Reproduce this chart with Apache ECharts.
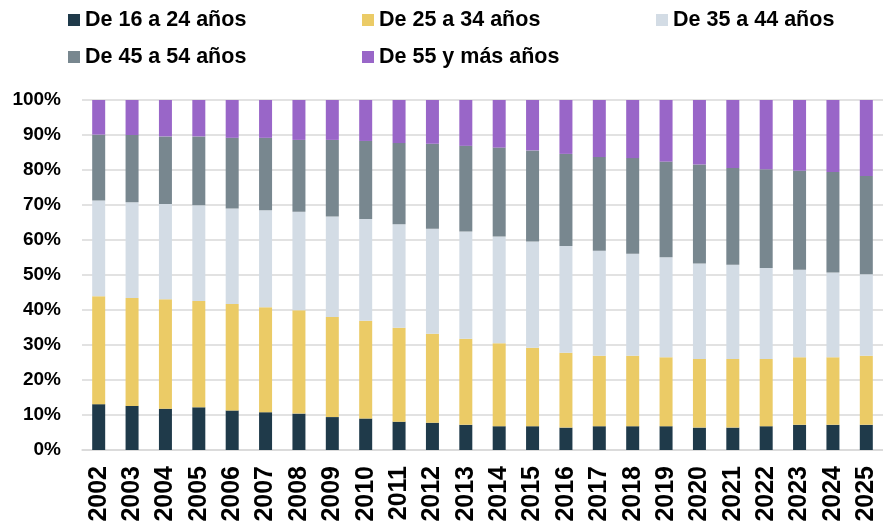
<!DOCTYPE html>
<html>
<head>
<meta charset="utf-8">
<script src="https://cdn.jsdelivr.net/npm/echarts@6/dist/echarts.min.js"></script>
<style>
    html, body { margin: 0; padding: 0; background: #fff; }
    #chart { width: 883px; height: 530px; }
</style>
</head>
<body>
<div id="chart"></div>
<script>
var years = ['2002', '2003', '2004', '2005', '2006', '2007', '2008', '2009', '2010', '2011', '2012', '2013',
    '2014', '2015', '2016', '2017', '2018', '2019', '2020', '2021', '2022', '2023', '2024', '2025'];

// % sobre el total de cada año
var de16a24 = [13.1, 12.6, 11.8, 12.2, 11.3, 10.8, 10.4, 9.4, 9.0, 8.1, 7.8, 7.2,
    6.8, 6.8, 6.4, 6.8, 6.8, 6.8, 6.4, 6.4, 6.8, 7.2, 7.2, 7.2];
var de25a34 = [30.8, 30.8, 31.3, 30.4, 30.4, 30.0, 29.5, 28.6, 27.9, 26.8, 25.4, 24.6,
    23.7, 22.4, 21.4, 20.1, 20.1, 19.7, 19.6, 19.6, 19.2, 19.3, 19.3, 19.7];
var de35a44 = [27.4, 27.4, 27.2, 27.3, 27.3, 27.7, 28.2, 28.7, 29.1, 29.6, 30.0, 30.6,
    30.5, 30.4, 30.5, 30.0, 29.2, 28.6, 27.3, 26.9, 26.0, 25.0, 24.2, 23.3];
var de45a54 = [18.8, 19.2, 19.3, 19.7, 20.2, 20.7, 20.5, 21.9, 22.3, 23.2, 24.3, 24.5,
    25.4, 26.0, 26.3, 26.8, 27.3, 27.3, 28.3, 27.7, 28.2, 28.3, 28.7, 28.1];
var de55ymas = [9.9, 10.0, 10.4, 10.4, 10.8, 10.8, 11.4, 11.4, 11.7, 12.3, 12.5, 13.1,
    13.6, 14.4, 15.4, 16.3, 16.6, 17.6, 18.4, 19.4, 19.8, 20.2, 20.6, 21.7];

var yTicks = [0, 10, 20, 30, 40, 50, 60, 70, 80, 90, 100];

var nombres = ['De 16 a 24 años', 'De 25 a 34 años', 'De 35 a 44 años', 'De 45 a 54 años', 'De 55 y más años'];
var colores = ['#1f3a4a', '#ebcb66', '#d3dce5', '#78878f', '#9966c8'];
var valores = [de16a24, de25a34, de35a44, de45a54, de55ymas];

var fuente = 'Liberation Sans, Arial, sans-serif';

var chart = echarts.init(document.getElementById('chart'), null, { renderer: 'canvas' });

function leyenda(datos, top) {
    return {
        left: 63,
        top: top,
        width: 900,
        icon: 'rect',
        itemWidth: 12,
        itemHeight: 12,
        itemGap: 7,
        selectedMode: false,
        data: datos,
        textStyle: {
            fontFamily: fuente,
            fontSize: 21.5,
            fontWeight: 'bold',
            color: '#000',
            width: 270,
            lineHeight: 24
        }
    };
}

var series = nombres.map(function (n, i) {
    return {
        name: n,
        type: 'bar',
        stack: 'total',
        barWidth: 13,
        itemStyle: { color: colores[i] },
        data: valores[i]
    };
});

chart.setOption({
    animation: false,
    color: colores,
    legend: [
        leyenda(nombres.slice(0, 3), 3),
        leyenda(nombres.slice(3), 40)
    ],
    grid: {
        left: 82,
        top: 100,
        width: 809,
        bottom: 80,
        containLabel: false
    },
    xAxis: {
        type: 'category',
        data: years,
        axisTick: { show: false },
        axisLine: { lineStyle: { color: '#d9d9d9', width: 1.5 } },
        axisLabel: {
            rotate: 90,
            interval: 0,
            margin: 16,
            fontFamily: fuente,
            fontSize: 25,
            fontWeight: 'bold',
            color: '#000'
        }
    },
    yAxis: {
        type: 'value',
        min: yTicks[0],
        max: yTicks[yTicks.length - 1],
        interval: 10,
        axisLine: { show: false },
        axisTick: { show: false },
        splitLine: { lineStyle: { color: '#d9d9d9', width: 1.5 } },
        axisLabel: {
            margin: 21,
            fontFamily: fuente,
            fontSize: 19,
            fontWeight: 'bold',
            color: '#000',
            formatter: '{value}%'
        }
    },
    series: series
});
</script>
</body>
</html>
